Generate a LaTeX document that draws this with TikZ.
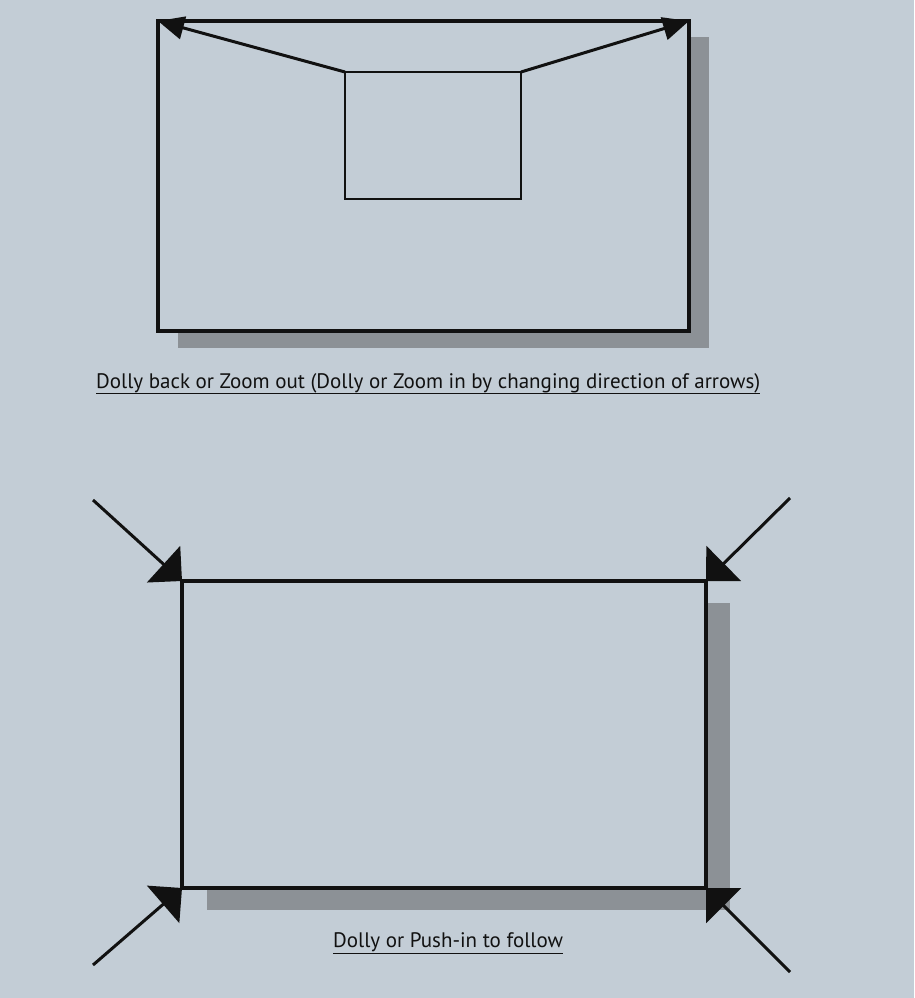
\documentclass[tikz,border=0pt]{standalone}
\usepackage{fontspec}
\setmainfont{PT Sans}
\usetikzlibrary{arrows.meta}
\definecolor{bg}{HTML}{C3CDD6}
\definecolor{shade}{HTML}{8C9196}
\definecolor{ink}{HTML}{111111}
\tikzset{
  frame/.style={draw=ink, line width=3.2pt, fill=bg, outer sep=0pt, inner sep=0pt},
  innerbox/.style={draw=ink, line width=1.5pt, outer sep=0pt, inner sep=0pt},
  shadowbox/.style={fill=shade, draw=none},
  toparrow/.style={draw=ink, line width=3pt, -{Triangle[length=26pt,width=23pt]}},
  bigarrow/.style={draw=ink, line width=3pt, -{Triangle[length=25pt,width=49pt]}},
  caption/.style={anchor=base west, inner sep=0pt, text=ink, font=\fontsize{21}{25}\selectfont},
  uline/.style={draw=ink, line width=1.5pt}
}
\begin{document}
\begin{tikzpicture}[x=1pt,y=-1pt]
\fill[bg] (0,0) rectangle (914,998);
\useasboundingbox (0,0) rectangle (914,998);
% top diagram
\fill[shadowbox] (178,37) rectangle (709,348);
\node[frame, minimum width=531pt, minimum height=310pt] (outer1) at (423.5,176) {};
\node[innerbox, minimum width=176pt, minimum height=127pt] (inner1) at (433,135.5) {};
\draw[toparrow] (inner1.north west) -- (outer1.north west);
\draw[toparrow] (inner1.north east) -- (outer1.north east);
\node[caption] (cap1) at (96,388) {Dolly back or Zoom out (Dolly or Zoom in by changing direction of arrows)};
\draw[uline] ([yshift=-5.5pt]cap1.base west) -- ([yshift=-5.5pt]cap1.base east);
% bottom diagram
\fill[shadowbox] (207,603) rectangle (730,910);
\node[frame, minimum width=524pt, minimum height=307pt] (outer2) at (444,734.5) {};
\coordinate (s1) at (93,500);
\coordinate (s2) at (790,498);
\coordinate (s3) at (93,965);
\coordinate (s4) at (790,972);
\draw[bigarrow] (s1) -- (outer2.north west);
\draw[bigarrow] (s2) -- (outer2.north east);
\draw[bigarrow] (s3) -- (outer2.south west);
\draw[bigarrow] (s4) -- (outer2.south east);
\node[caption] (cap2) at (333,947) {Dolly or Push-in to follow};
\draw[uline] ([yshift=-6.5pt]cap2.base west) -- ([yshift=-6.5pt]cap2.base east);
\end{tikzpicture}
\end{document}
